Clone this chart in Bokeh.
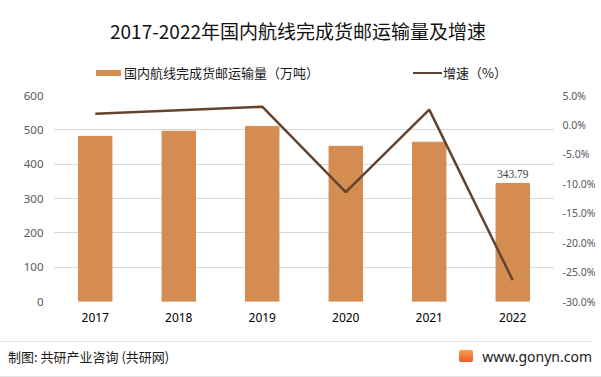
from bokeh.plotting import figure
from bokeh.layouts import column
from bokeh.models import (Range1d, LinearAxis, FixedTicker, PrintfTickFormatter,
                          ColumnDataSource, FactorRange, Div)
from bokeh.embed import file_html
from bokeh.resources import INLINE

years = ["2017", "2018", "2019", "2020", "2021", "2022"]
volume = [481, 496, 510, 452, 464, 343.79]          # 万吨
growth = [1.9, 2.5, 3.1, -11.4, 2.6, -26.4]           # %
left_ticks = [0, 100, 200, 300, 400, 500, 600]
right_ticks = [-30, -25, -20, -15, -10, -5, 0, 5]

title_text = "2017-2022年国内航线完成货邮运输量及增速"
legend_bar = "国内航线完成货邮运输量（万吨）"
legend_line = "增速（%）"
source_text = "制图: 共研产业咨询 (共研网)"
site_text = "www.gonyn.com"

BAR = "#D48C50"
LINE = "#634430"
FONT = "'Noto Sans CJK SC', 'Noto Sans', sans-serif"
W = 601

def ab(style, inner=""):
    return f'<div style="position:absolute;{style}">{inner}</div>'

top_html = (
    f'<div style="position:relative;width:{W}px;height:85px;font-family:{FONT};color:#1a1a1a;">'
    + ab("left:0;width:596px;top:19px;text-align:center;font-size:19px;line-height:24px;"
         "color:#111;white-space:nowrap;", title_text)
    + ab(f"left:96px;top:70px;width:25px;height:6px;background:{BAR};")
    + ab("left:124px;top:64px;font-size:13px;line-height:18px;white-space:nowrap;", legend_bar)
    + ab(f"left:413px;top:71.5px;width:29px;height:2.2px;background:{LINE};")
    + ab("left:443px;top:64px;font-size:13px;line-height:18px;white-space:nowrap;", legend_line)
    + '</div>'
)
bot_html = (
    f'<div style="position:relative;width:{W}px;height:42px;font-family:{FONT};color:#1a1a1a;">'
    + ab("left:0;top:6px;width:592px;height:1px;background:#E3E3E3;")
    + ab("left:8px;top:13px;font-size:13px;line-height:18px;white-space:nowrap;", source_text)
    + ab("left:459px;top:15px;width:14px;height:12px;border-radius:2px;"
         "background:linear-gradient(#F5A04A,#EE5A2E);")
    + ab("right:9px;top:12px;font-size:14px;line-height:20px;white-space:nowrap;"
         "font-family:'Noto Sans',sans-serif;", site_text)
    + ab("left:0;top:41px;width:601px;height:1px;background:#E3E3E3;")
    + '</div>'
)

top = Div(text=top_html, width=W, height=85, margin=0)
bot = Div(text=bot_html, width=W, height=42, margin=0)

# ---------------- main chart ----------------
src = ColumnDataSource(dict(x=years, v=volume, g=growth,
                            lab=["", "", "", "", "", "343.79"]))

p = figure(width=W, height=250, output_backend="svg", toolbar_location=None,
           x_range=FactorRange(*years, range_padding=0), y_range=Range1d(0, 600),
           min_border_left=53, min_border_right=47, min_border_top=10, min_border_bottom=34)
p.outline_line_color = None
p.background_fill_color = "white"
p.border_fill_color = "white"
p.extra_y_ranges = {"g": Range1d(-30, 5)}

bars = p.vbar(x="x", top="v", width=0.4, color=BAR, source=src)
line = p.line(x="x", y="g", y_range_name="g", line_color=LINE, line_width=2.5, source=src)

p.text(x="x", y="v", text="lab", source=src, text_align="center", text_baseline="bottom",
       y_offset=-5, text_font_size="11.5px", text_color="#404040", text_font="Noto Sans")

def style_axis(ax, color, size, standoff):
    ax.axis_line_color = None
    ax.major_tick_line_color = None
    ax.minor_tick_line_color = None
    ax.major_tick_out = 0
    ax.major_tick_in = 0
    ax.minor_tick_out = 0
    ax.minor_tick_in = 0
    ax.major_label_text_color = color
    ax.major_label_text_font_size = size
    ax.major_label_text_font = "Noto Sans"
    ax.major_label_standoff = standoff

ya = p.yaxis[0]
ya.ticker = FixedTicker(ticks=left_ticks)
style_axis(ya, "#595959", "11.5px", 10)

ra = LinearAxis(y_range_name="g", ticker=FixedTicker(ticks=right_ticks),
                formatter=PrintfTickFormatter(format="%.1f%%"))
style_axis(ra, "#595959", "10.5px", 8)
p.add_layout(ra, "right")

style_axis(p.xaxis[0], "#000000", "12px", 11)

p.xgrid.grid_line_color = None
p.ygrid.grid_line_color = "#D9D9D9"
p.ygrid.grid_line_width = 1

layout = column(top, p, bot, spacing=0)
open("out.html", "w").write(file_html(layout, INLINE))
